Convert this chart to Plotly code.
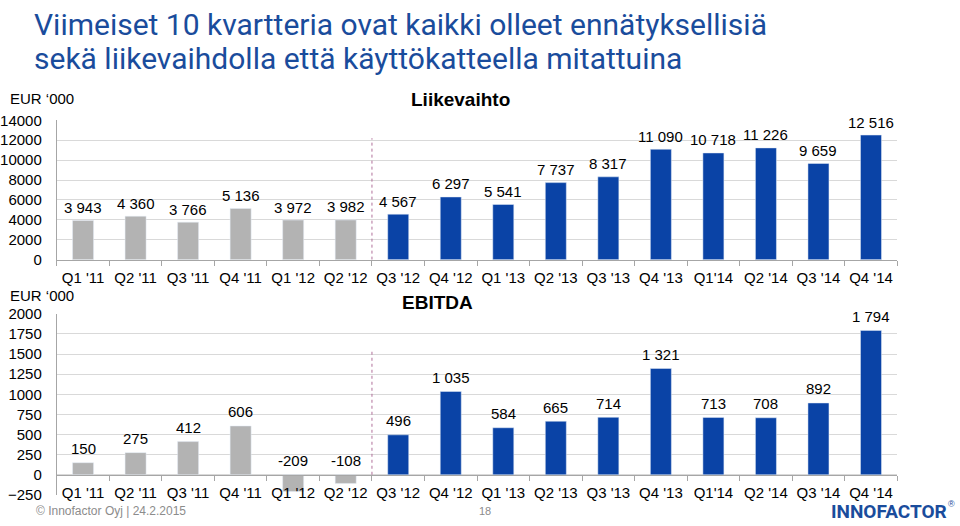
import plotly.graph_objects as go

categories = ["Q1 '11", "Q2 '11", "Q3 '11", "Q4 '11", "Q1 '12", "Q2 '12", "Q3 '12", "Q4 '12",
              "Q1 '13", "Q2 '13", "Q3 '13", "Q4 '13", "Q1'14", "Q2 '14", "Q3 '14", "Q4 '14"]
liikevaihto = [3943, 4360, 3766, 5136, 3972, 3982, 4567, 6297,
               5541, 7737, 8317, 11090, 10718, 11226, 9659, 12516]
ebitda = [150, 275, 412, 606, -209, -108, 496, 1035,
          584, 665, 714, 1321, 713, 708, 892, 1794]
split_index = 6  # first 6 quarters grey, rest blue

GREY = "#B3B3B3"
BLUE = "#0A43A6"
TITLE_BLUE = "#1A4C9C"
FONT = "Liberation Sans"

colors = [GREY if i < split_index else BLUE for i in range(len(categories))]

def fmt(v):
    return f"{v:,}".replace(",", " ")

W, H = 960, 526
def py(pix):
    return 1 - pix / H

fig = go.Figure()
fig.add_trace(go.Bar(x=categories, y=liikevaihto, marker_color=colors, xaxis="x", yaxis="y",
                     hoverinfo="skip"))
fig.add_trace(go.Bar(x=categories, y=ebitda, marker_color=colors, xaxis="x2", yaxis="y2",
                     hoverinfo="skip"))

y_top_domain = [py(259), py(115)]
y_bot_domain = [py(502.1), py(315)]
zero_bot = py(481.3)

axis_common = dict(type="category", tickson="boundaries", ticks="outside", ticklen=5,
                   tickcolor="#A6A6A6", showline=True, linecolor="#A6A6A6", linewidth=1,
                   showgrid=False, tickfont=dict(family=FONT, size=15, color="black"),
                   tickangle=0, ticklabelstandoff=4,
                   domain=[53 / W, 897 / W], range=[-0.5, len(categories) - 0.5])
yaxis_common = dict(showgrid=True, gridcolor="#D9D9D9", showline=True, linecolor="#A6A6A6",
                    zeroline=False, tickfont=dict(family=FONT, size=15, color="black"),
                    ticks="", tickformat="d", ticklabelstandoff=11)

fig.update_layout(
    width=W, height=H,
    margin=dict(l=0, r=0, t=0, b=0),
    plot_bgcolor="white", paper_bgcolor="white",
    showlegend=False, bargap=0.6, hovermode=False,
    xaxis=dict(anchor="y", **axis_common),
    xaxis2=dict(anchor="free", position=zero_bot, **axis_common),
    yaxis=dict(domain=y_top_domain, range=[0, 14000], dtick=2000, anchor="x", **yaxis_common),
    yaxis2=dict(domain=y_bot_domain, range=[-250, 2000], dtick=250, anchor="x2", **yaxis_common),
)

sep_x = split_index - 0.5
fig.add_shape(type="line", xref="x", yref="y", x0=sep_x, x1=sep_x, y0=0, y1=12200,
              line=dict(color="#B0709A", width=1, dash="dot"))
fig.add_shape(type="line", xref="x2", yref="y2", x0=sep_x, x1=sep_x, y0=0, y1=1550,
              line=dict(color="#B0709A", width=1, dash="dot"))

ann = []
# data labels
for c, v in zip(categories, liikevaihto):
    ann.append(dict(text=fmt(v), x=c, y=max(v, 0), xref="x", yref="y", yanchor="middle",
                    yshift=13, showarrow=False, font=dict(family=FONT, size=15, color="black")))
for c, v in zip(categories, ebitda):
    ann.append(dict(text=fmt(v), x=c, y=max(v, 0), xref="x2", yref="y2", yanchor="middle",
                    yshift=14, showarrow=False, font=dict(family=FONT, size=15, color="black")))

title_lines = ["Viimeiset 10 kvartteria ovat kaikki olleet ennätyksellisiä",
               "sekä liikevaihdolla että käyttökatteella mitattuina"]
for line, ypix in zip(title_lines, [16, 51]):
    ann.append(dict(text=line, x=28 / W, y=py(ypix), xref="paper", yref="paper",
                    xanchor="left", yanchor="middle", showarrow=False,
                    font=dict(family="Roboto", size=30, color=TITLE_BLUE)))
ann.append(dict(text="EUR ‘000", x=4 / W, y=py(92), xref="paper", yref="paper",
                xanchor="left", yanchor="middle", showarrow=False,
                font=dict(family=FONT, size=15, color="black")))
ann.append(dict(text="EUR ‘000", x=4 / W, y=py(296), xref="paper", yref="paper",
                xanchor="left", yanchor="middle", showarrow=False,
                font=dict(family=FONT, size=15, color="black")))
ann.append(dict(text="<b>Liikevaihto</b>", x=458 / W, y=py(94), xref="paper", yref="paper",
                xanchor="center", yanchor="middle", showarrow=False,
                font=dict(family=FONT, size=19, color="black")))
ann.append(dict(text="<b>EBITDA</b>", x=435 / W, y=py(303), xref="paper", yref="paper",
                xanchor="center", yanchor="middle", showarrow=False,
                font=dict(family=FONT, size=19, color="black")))
ann.append(dict(text="© Innofactor Oyj | 24.2.2015", x=30 / W, y=py(519), xref="paper", yref="paper",
                xanchor="left", yanchor="middle", showarrow=False,
                font=dict(family=FONT, size=12, color="#8C8C8C")))
ann.append(dict(text="18", x=483 / W, y=py(519), xref="paper", yref="paper",
                xanchor="center", yanchor="middle", showarrow=False,
                font=dict(family=FONT, size=11, color="#8C8C8C")))
ann.append(dict(text="<b>INNOFACTOR</b>", x=948 / W, y=py(519), xref="paper", yref="paper",
                xanchor="right", yanchor="middle", showarrow=False, borderpad=0,
                font=dict(family="Roboto", size=19, color=TITLE_BLUE)))
ann.append(dict(text="®", x=956 / W, y=py(512), xref="paper", yref="paper",
                xanchor="right", yanchor="middle", showarrow=False, borderpad=0,
                font=dict(family=FONT, size=9, color=TITLE_BLUE)))
fig.update_layout(annotations=ann)

fig.write_html("out.html")
